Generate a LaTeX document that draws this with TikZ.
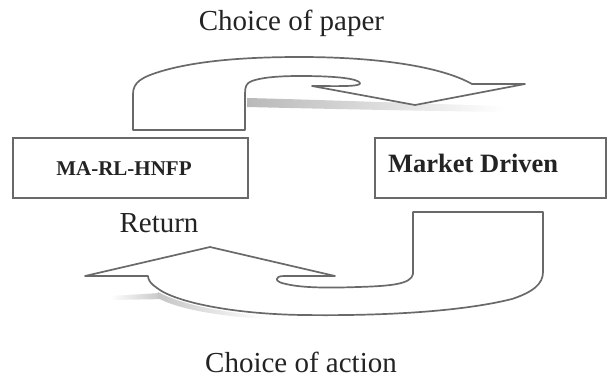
\documentclass[tikz,border=0pt]{standalone}
\usepackage{fontspec}
\setmainfont{Liberation Serif}
\begin{document}
\begin{tikzpicture}[x=1pt,y=-1pt,
  outline/.style={draw=linegray,line width=1.7pt,line join=round,fill=white},
  framebox/.style={draw=linegray,line width=1.9pt,fill=white,inner sep=0pt},
  caption/.style={text=inkgray,inner sep=0pt,anchor=base,font=\fontsize{29}{34}\selectfont},
  boxtext/.style={text=inkgray,inner sep=0pt,anchor=base,font=\bfseries}]
\definecolor{linegray}{RGB}{105,105,105}
\definecolor{inkgray}{RGB}{35,35,35}
\useasboundingbox (0,0) rectangle (610,378);

% soft shadows under the two curved arrows
\shade[left color=gray!55,right color=white]
  (247,98) .. controls (330,100) and (430,104) .. (505,106)
  -- (505,112) .. controls (430,111) and (330,109) .. (247,107) -- cycle;
\shade[left color=white,right color=gray!50]
  (110,296) -- (160,293) -- (168,299) -- (110,300) -- cycle;
\shade[left color=gray!45,right color=white]
  (158,292) .. controls (180,304) and (220,312) .. (265,316)
  -- (265,319) .. controls (215,316) and (175,308) .. (158,298) -- cycle;

% upper curved arrow (towards the right)
\draw[outline] (133,130) -- (133,94)
  .. controls (133,82) and (142,77) .. (162,71)
  .. controls (200,60) and (250,57) .. (300,57)
  .. controls (380,57) and (442,67) .. (472,84)
  -- (525,84) -- (415,105) -- (312,86)
  .. controls (335,86) and (362,87) .. (360,83)
  .. controls (358,79) and (340,76) .. (300,76)
  .. controls (275,76) and (260,78) .. (252,81)
  .. controls (246,83) and (245,87) .. (245,94)
  -- (245,130) -- cycle;

% lower curved arrow (towards the left)
\draw[outline] (413,212) -- (543,212) -- (543,272)
  .. controls (543,284) and (533,292) .. (512,299)
  .. controls (460,312) and (380,316) .. (303,315)
  .. controls (232,314) and (175,302) .. (157,288)
  .. controls (151,284) and (148,280) .. (148,276)
  -- (85,276) -- (210,247) -- (335,276) -- (284,276)
  .. controls (274,276) and (274,282) .. (286,284)
  .. controls (302,288) and (330,288) .. (358,287)
  .. controls (392,286) and (411,284) .. (413,274)
  -- cycle;

% the two boxes
\node[framebox,minimum width=235pt,minimum height=60pt] (mabox) at (130.5,168) {};
\node[framebox,minimum width=231pt,minimum height=60pt] (mdbox) at (490.5,168) {};

% texts
\node[boxtext,font=\bfseries\fontsize{21}{25}\selectfont] (matext) at (124,175) {MA-RL-HNFP};
\node[boxtext,anchor=base west,font=\bfseries\fontsize{26.5}{31}\selectfont] (mdtext) at (388,172) {Market Driven};
\node[caption] (paper) at (291.5,30) {Choice of paper};
\node[caption] (action) at (301,372) {Choice of action};
\node[caption] (ret) at (159,232) {Return};
\end{tikzpicture}
\end{document}
